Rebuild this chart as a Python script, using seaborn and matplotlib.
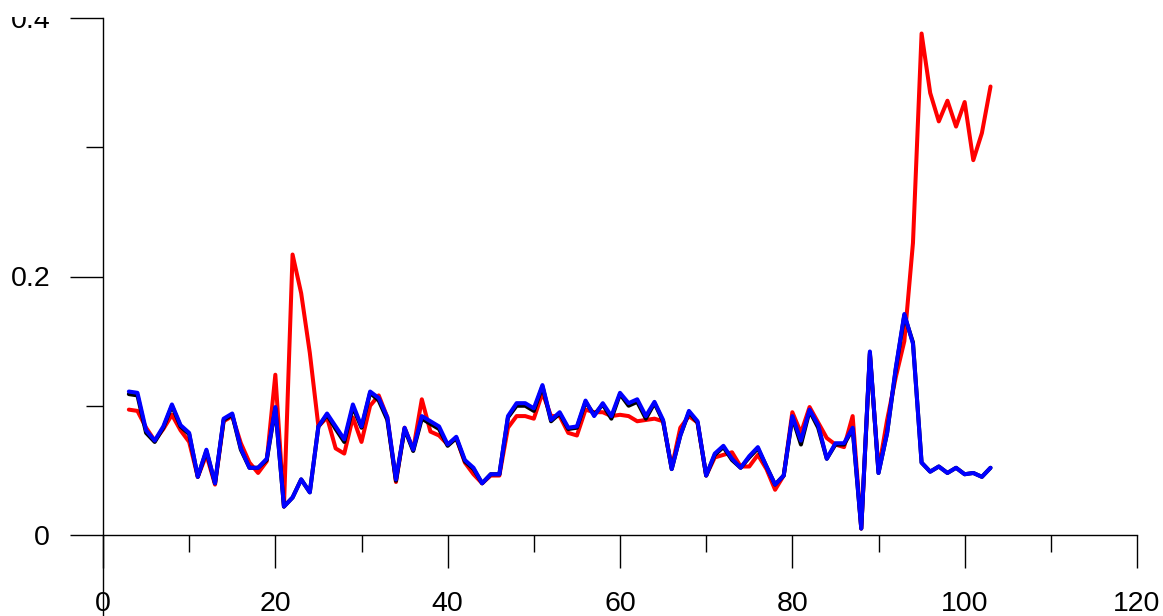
import numpy as np
import pandas as pd
import matplotlib
matplotlib.use("Agg")
import matplotlib.pyplot as plt
from matplotlib.ticker import MultipleLocator
from matplotlib.transforms import Bbox
import seaborn as sns

x_values = list(range(3, 104))

red_values = [0.097, 0.096, 0.083, 0.073, 0.082, 0.093, 0.081, 0.072, 0.045, 0.062,
              0.039, 0.088, 0.092, 0.071, 0.056, 0.048, 0.057, 0.124, 0.022, 0.217,
              0.187, 0.141, 0.084, 0.091, 0.067, 0.063, 0.091, 0.072, 0.100, 0.108,
              0.091, 0.041, 0.083, 0.066, 0.105, 0.080, 0.077, 0.070, 0.075, 0.056,
              0.047, 0.040, 0.046, 0.046, 0.083, 0.092, 0.092, 0.090, 0.110, 0.092,
              0.092, 0.079, 0.077, 0.097, 0.095, 0.095, 0.092, 0.093, 0.092, 0.088,
              0.089, 0.090, 0.088, 0.052, 0.083, 0.092, 0.087, 0.046, 0.060, 0.062,
              0.064, 0.053, 0.053, 0.062, 0.051, 0.035, 0.046, 0.095, 0.079, 0.099,
              0.087, 0.075, 0.070, 0.068, 0.092, 0.005, 0.140, 0.050, 0.089, 0.122,
              0.150, 0.226, 0.388, 0.342, 0.320, 0.336, 0.316, 0.335, 0.290, 0.311,
              0.347]

black_values = [0.109, 0.108, 0.079, 0.072, 0.083, 0.100, 0.084, 0.078, 0.045, 0.065,
                0.040, 0.089, 0.093, 0.066, 0.052, 0.052, 0.058, 0.098, 0.022, 0.029,
                0.043, 0.033, 0.084, 0.093, 0.082, 0.072, 0.099, 0.083, 0.110, 0.104,
                0.089, 0.042, 0.082, 0.065, 0.090, 0.086, 0.082, 0.069, 0.075, 0.057,
                0.051, 0.040, 0.047, 0.047, 0.091, 0.100, 0.100, 0.096, 0.115, 0.088,
                0.094, 0.082, 0.083, 0.103, 0.093, 0.101, 0.090, 0.109, 0.100, 0.103,
                0.090, 0.102, 0.088, 0.051, 0.077, 0.095, 0.087, 0.046, 0.062, 0.068,
                0.058, 0.052, 0.060, 0.067, 0.053, 0.039, 0.046, 0.091, 0.070, 0.096,
                0.083, 0.059, 0.070, 0.070, 0.082, 0.005, 0.141, 0.048, 0.079, 0.128,
                0.170, 0.149, 0.056, 0.049, 0.053, 0.048, 0.052, 0.047, 0.048, 0.045,
                0.052]

blue_values = [0.111, 0.110, 0.081, 0.073, 0.084, 0.101, 0.085, 0.079, 0.045, 0.066,
               0.040, 0.090, 0.094, 0.067, 0.052, 0.052, 0.059, 0.099, 0.022, 0.029,
               0.043, 0.033, 0.084, 0.094, 0.084, 0.074, 0.101, 0.084, 0.111, 0.106,
               0.091, 0.043, 0.083, 0.066, 0.092, 0.088, 0.084, 0.070, 0.076, 0.058,
               0.052, 0.040, 0.047, 0.047, 0.092, 0.102, 0.102, 0.098, 0.116, 0.089,
               0.095, 0.083, 0.084, 0.104, 0.092, 0.102, 0.092, 0.110, 0.102, 0.105,
               0.092, 0.103, 0.089, 0.051, 0.077, 0.096, 0.088, 0.046, 0.063, 0.069,
               0.059, 0.052, 0.061, 0.068, 0.053, 0.039, 0.046, 0.092, 0.073, 0.097,
               0.085, 0.059, 0.071, 0.071, 0.083, 0.005, 0.142, 0.048, 0.079, 0.129,
               0.171, 0.148, 0.056, 0.049, 0.053, 0.048, 0.052, 0.047, 0.048, 0.045,
               0.052]

x_major_ticks = [0, 20, 40, 60, 80, 100, 120]
y_major_ticks = [0, 0.2, 0.4]
y_tick_labels = ["0", "0.2", "0.4"]

sns.set_style("ticks")
plt.rcParams['font.family'] = ['Liberation Sans', 'DejaVu Sans']

W, H = 1163, 616
fig = plt.figure(figsize=(W / 100, H / 100), dpi=100)
ax = fig.add_axes([103 / W, 0.0, (1137 - 103) / W, (H - 18) / H])

df = pd.DataFrame({"x": x_values, "red": red_values,
                   "black": black_values, "blue": blue_values})
for col, color in [("red", "#ff0000"), ("black", "#000000"), ("blue", "#0000ff")]:
    sns.lineplot(data=df, x="x", y=col, color=color, linewidth=2.9, ax=ax,
                 legend=False)

ax.set_xlim(0, 120)
ax.set_ylim(-(H - 535) / 1292.5, 0.4)
ax.set_xlabel("")
ax.set_ylabel("")

for s in ["top", "right"]:
    ax.spines[s].set_visible(False)
ax.spines["bottom"].set_position(("data", 0))
ax.spines["bottom"].set_bounds(0, 120)
for s in ["left", "bottom"]:
    ax.spines[s].set_visible(True)
    ax.spines[s].set_color("black")
    ax.spines[s].set_linewidth(1.0)

ax.set_xticks(x_major_ticks)
ax.set_xticklabels([str(v) for v in x_major_ticks])
ax.xaxis.set_minor_locator(MultipleLocator(10))
ax.set_yticks(y_major_ticks)
ax.set_yticklabels(y_tick_labels)
ax.yaxis.set_minor_locator(MultipleLocator(0.1))

ax.tick_params(axis="both", which="both", bottom=True, left=True,
               top=False, right=False)
ax.tick_params(axis="both", which="major", direction="out", length=24,
               width=1.0, color="black", labelsize=20.5, labelcolor="black")
ax.tick_params(axis="both", which="minor", direction="out", length=12.5,
               width=1.0, color="black")
ax.tick_params(axis="x", which="major", pad=16)
ax.tick_params(axis="y", which="major", pad=14)

# clip labels at the top edge of the plotting frame, as in the reference
clip = Bbox.from_extents(0, 0, W, H - 17)
for t in ax.yaxis.get_major_ticks():
    t.label1.set_clip_box(clip)
    t.label1.set_clip_on(True)

fig.savefig("out.png", dpi=100)
